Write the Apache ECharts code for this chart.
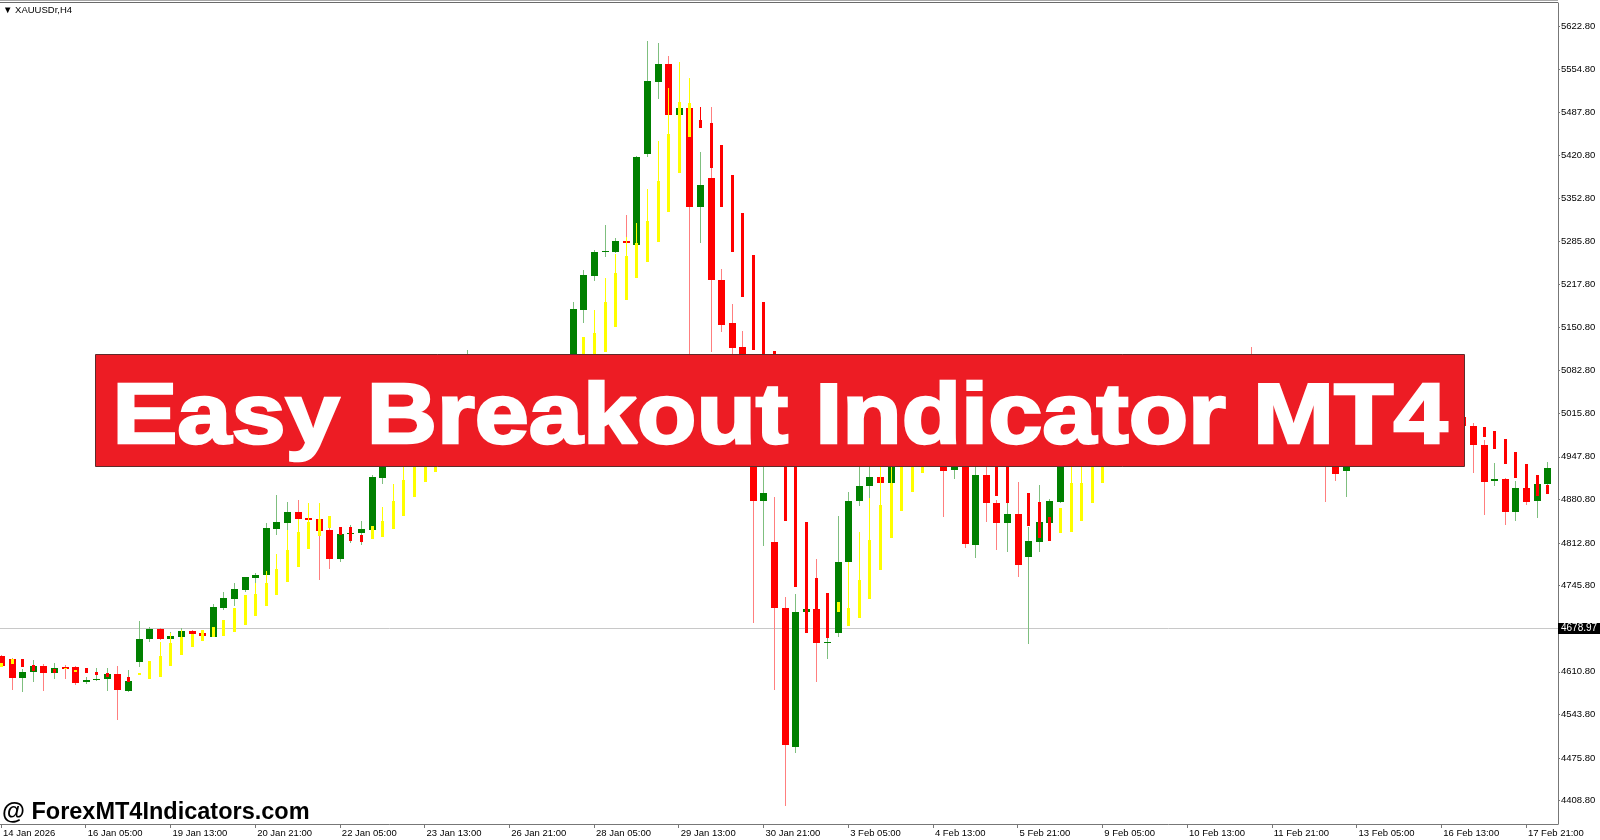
<!DOCTYPE html>
<html><head><meta charset="utf-8">
<script src="https://cdn.jsdelivr.net/npm/echarts@6/dist/echarts.min.js"></script>
<style>html,body{margin:0;padding:0;background:#fff;}#chart{width:1600px;height:840px;}</style>
</head><body><div id="chart"></div>
<script>
const symbolLabel = '\u25BC XAUUSDr,H4';
const titleText = 'Easy Breakout Indicator MT4';
const watermark = '@ ForexMT4Indicators.com';
const currentPrice = 4678.97;

const dateTickIdx = [0,8,16,24,32,40,48,56,64,72,80,88,96,104,112,120,128,136,144];
const dateLabels = ['14 Jan 2026','16 Jan 05:00','19 Jan 13:00','20 Jan 21:00','22 Jan 05:00','23 Jan 13:00','26 Jan 21:00','28 Jan 05:00','29 Jan 13:00','30 Jan 21:00','3 Feb 05:00','4 Feb 13:00','5 Feb 21:00','9 Feb 05:00','10 Feb 13:00','11 Feb 21:00','13 Feb 05:00','16 Feb 13:00','17 Feb 21:00'];
const priceTicks = [5622.8,5554.8,5487.8,5420.8,5352.8,5285.8,5217.8,5150.8,5082.8,5015.8,4947.8,4880.8,4812.8,4745.8,4610.8,4543.8,4475.8,4408.8];

const open = [
4635.6,4630.9,4601.6,4610.0,4619.9,4609.4,4617.9,4617.9,4594.9,4597.5,
4599.5,4607.4,4580.2,4626.6,4661.7,4677.9,4662.7,4665.8,4675.2,4671.1,
4665.8,4711.3,4725.4,4739.0,4758.3,4762.1,4834.6,4844.5,4861.7,4851.4,
4849.8,4832.6,4788.1,4827.1,4827.9,4833.0,4915.0,4950,4972,4990,
4960,4985,5015,5000,5045,5078,5055,5030,5052,5038,
5058,5072,5062,5080,5096,5177.8,5231.1,5269.2,5269.2,5286.4,
5279.7,5421.8,5535.6,5563.3,5483.4,5493.9,5338.7,5384.2,5224.8,5157.4,
5119.8,5040.0,4878.5,4813.8,4710.3,4493.4,4705.0,4709.2,4655.9,4672.1,
4782.4,4878.5,4902.0,4916.6,4906.2,4945,4970,4990,5000,4975,
4927.1,4945.0,4809.5,4919.2,4875.8,4843.5,4858.1,4791.2,4814.7,4844.5,
4877.4,4945,4960,4975,4990,5000,5015,5005,5030,5045,
5035,5055,5070,5060,5075,5065,5080,5070,5085,5060,
5040,5020,5030,5005,4985,4965,4945,4926.0,4950,4965,
4955,4975,4990,4980,5000,5015,5005,5020,5010,4996.0,
4966.2,4910.3,4912.5,4861.7,4898.4,4879.0,4905.1];
const high = [
4637.2,4632.0,4614.7,4629.3,4623.0,4624.1,4621.5,4619.9,4603.2,4616.3,
4616.3,4619.9,4613.6,4690.4,4681.5,4679.5,4673.6,4679.0,4676.3,4673.2,
4716.6,4736.3,4750.4,4759.8,4766.1,4844.5,4887.9,4877.0,4880.1,4855.0,
4851.0,4837.3,4830.4,4840.9,4847.6,4919.2,4958.0,4985,5000,4998,
4995,5025,5035,5060,5115,5090,5068,5062,5064,5072,
5086,5082,5096,5105,5190.8,5240.5,5271.8,5311.0,5290.2,5326.7,
5419.1,5599.4,5595.7,5575.8,5496.4,5500.6,5425.9,5496.4,5241.6,5187.2,
5144.9,5060.0,5000.0,4884.3,4728.5,4732.7,4716.0,4787.1,4663.3,4855.0,
4893.1,4940.0,4945.0,4940.0,4955.0,4985,5005,5015,5010,4990,
4960.0,4960.0,4940.0,4940.0,4880.0,4905.0,4908.7,4838.2,4903.6,4881.6,
4955.0,4975,4990,5005,5015,5030,5028,5040,5058,5060,
5065,5080,5085,5090,5088,5095,5092,5098,5119.3,5070,
5050,5045,5040,5015,4995,4975,4955,4960,4975,4980,
4985,5005,5000,5012,5030,5025,5035,5030,5020,5001.2,
4974.0,4938.5,4914.5,4909.8,4936.0,4919.2,4940.1];
const low = [
4618.4,4582.3,4579.6,4595.3,4581.2,4599.5,4599.1,4589.7,4591.2,4596.4,
4581.2,4535.3,4579.0,4618.8,4657.9,4660.7,4660.7,4663.3,4668.5,4665.3,
4664.9,4707.7,4714.4,4735.9,4749.5,4759.4,4825.2,4832.0,4848.7,4847.2,
4754.7,4771.4,4782.9,4813.1,4810.0,4829.9,4904.7,4945,4960,4928.2,
4928.2,4975,4990,4995,5035,5045,5012,5022,5025,5030,
5048,5052,5056,5072,5086,5157.0,5223.7,5261.3,5267.1,5279.7,
5275.0,5418.0,5508.0,5478.7,5478.7,5060.0,5282.3,5112.5,5143.8,5100.0,
5020.0,4687.8,4808.0,4582.3,4401.0,4483.1,4701.4,4595.3,4630.4,4664.9,
4778.2,4871.1,4882.7,4903.6,4902.0,4938,4960,4975,4950,4853.9,
4913.0,4804.4,4788.7,4846.1,4801.7,4799.0,4758.9,4654.4,4799.0,4840.9,
4875.3,4938,4950,4965,4980,4990,4995,5000,5020,5025,
5030,5045,5050,5052,5055,5058,5060,5062,5050,5030,
5010,5005,4995,4975,4950,4877.4,4910.3,4885.2,4940,4945,
4948,4965,4968,4972,4990,4995,4998,5000,4990,4922.8,
4856.5,4902.4,4840.9,4847.2,4872.2,4852.3,4902.0];
const close = [
4619.9,4601.6,4610.5,4619.9,4609.4,4616.3,4614.7,4593.8,4598.0,4600.0,
4607.4,4581.8,4595.9,4662.2,4677.9,4662.2,4666.9,4675.2,4670.0,4666.9,
4711.9,4726.5,4740.1,4758.9,4763.0,4835.7,4845.1,4861.7,4850.3,4849.2,
4831.5,4788.1,4826.8,4827.9,4834.6,4915.6,4950.0,4972,4990,4960,
4985,5015,5000,5045,5078,5055,5030,5052,5038,5058,
5072,5062,5080,5096,5178.9,5232.6,5269.2,5270.7,5286.4,5282.3,
5418.0,5537.1,5563.3,5483.4,5493.9,5339.7,5373.7,5224.8,5154.3,5118.2,
5040.0,4878.5,4890.5,4710.3,4496.1,4704.1,4709.2,4655.5,4658.0,4782.4,
4879.0,4902.0,4916.6,4906.2,4945.0,4970,4990,5000,4975,4926.0,
4945.0,4811.1,4919.2,4875.8,4843.5,4858.1,4778.2,4815.8,4845.1,4878.5,
4945.0,4960,4975,4990,5000,5015,5005,5030,5045,5035,
5055,5070,5060,5075,5065,5080,5070,5085,5060,5040,
5020,5030,5005,4985,4965,4945,4920.8,4950,4965,4955,
4975,4990,4980,5000,5015,5005,5020,5010,4996,4966.2,
4908.7,4912.5,4861.7,4898.4,4877.4,4904.7,4930.2];

// Breakout indicator histogram: 1 = yellow (up), 0 = red (down)
const indUp = [
1,1,0,0,null,0,1,1,0,0,
0,null,0,1,1,1,1,1,1,1,
1,1,1,1,1,1,1,1,1,1,
1,1,0,0,0,1,1,1,1,1,
1,1,1,1,1,1,1,1,1,1,
1,1,1,1,1,1,1,1,1,1,
1,1,1,1,1,1,0,0,0,0,
0,0,0,0,0,0,0,0,0,1,
1,1,1,1,1,1,1,1,0,0,
0,0,0,0,0,0,0,0,0,0,
1,1,1,1,1,1,1,1,1,1,
1,1,1,1,1,1,1,1,0,0,
0,0,0,0,0,0,0,0,0,0,
0,0,0,0,0,0,0,0,0,null,
0,0,0,0,0,0,0];
const indHigh = [
4624.6,4630.9,4630.4,4621.0,null,4615.7,4617.3,4613.6,4616.3,4611.0,
4608.5,null,4603.2,4608.5,4627.7,4657.9,4671.6,4676.3,4670.0,4676.3,
4681.5,4692.0,4711.3,4731.2,4749.5,4768.8,4795.0,4833.0,4850.3,4874.9,
4874.9,4855.0,4838.2,4837.3,4825.2,4839.3,4869.5,4904.7,4950.0,4960.0,
4965.0,4970.0,5000,5010,5020,5040,5045,5050,5055,5060,
5065,5070,5075,5080,5090,5135.5,5177.8,5227.9,5265.6,5292.7,
5314.6,5367.4,5443.1,5525.2,5566.9,5540.9,5496.4,5470.4,5436.4,5389.4,
5329.8,5264.0,5190.3,5113.5,5010,4990,4846.1,4757.3,4733.8,4720.7,
4782.4,4830.4,4882.7,4935.0,4945.0,4950,4960,4975,5005,5000,
5000,4995,4990,4985,4950,4940,4950,4891.5,4877.4,4853.9,
4867.0,4940,4945,4940,4945,4985,4990,4995,5005,5010,
5015,5025,5030,5035,5040,5045,5048,5052,5105,5100,
5095,5090,5085,5075,5065,5050,5040,5030,5025,5025,
5030,5040,5040,5045,5055,5050,5055,5045,5035,null,
4994.9,4988.2,4975.2,4955.7,4936.5,4919.2,4903.6];
const indTop = [
4624.6,4630.9,4630.4,4621.0,null,4615.7,4617.3,4613.6,4616.3,4611.0,
4608.5,null,4603.2,4608.5,4627.7,4635.6,4656.4,4665.8,4670.0,4676.3,
4681.5,4692.0,4711.3,4731.2,4732.3,4749.5,4771.4,4801.7,4830.4,4846.1,
4850.3,4855.0,4838.2,4837.3,4825.2,4839.3,4847.2,4878.5,4911.4,4935.0,
4950.0,4955.0,4990,4995,5005,5020,5030,5035,5040,5045,
5050,5055,5060,5065,5075,5135.5,5141.7,5190.8,5235.3,5262.4,
5282.3,5317.3,5380.0,5453.6,5504.2,5502.2,5475.5,5470.4,5436.4,5389.4,
5329.8,5264.0,5190.3,5113.5,5010,4990,4846.1,4757.3,4733.8,4720.7,
4710.3,4754.7,4817.4,4872.2,4906.2,4950,4960,4975,5005,5000,
5000,4995,4990,4985,4950,4940,4950,4891.5,4877.4,4853.9,
4867.0,4906.2,4906.2,4940,4945,4985,4990,4995,5005,5010,
5015,5025,5030,5035,5040,5045,5048,5052,5105,5100,
5095,5090,5085,5075,5065,5050,5040,5030,5025,5025,
5030,5040,5040,5045,5055,5050,5055,5045,5035,null,
4994.9,4988.2,4975.2,4955.7,4936.5,4919.2,4903.6];
const indLow = [
4618.4,4622.6,4618.8,4612.5,null,4608.5,4614.7,4611.0,4608.5,4605.8,
4602.2,null,4595.3,4605.8,4599.1,4603.2,4619.9,4637.2,4650.2,4659.1,
4664.9,4667.4,4672.7,4684.2,4698.7,4714.4,4731.2,4751.1,4775.5,4802.8,
4824.1,4835.7,4825.2,4815.8,4814.7,4818.9,4821.6,4834.1,4855.0,4884.3,
4908.7,4924.4,4940,4945,4955,4965,4975,4985,4990,4995,
5000,5005,5010,5015,5025,5040,5060,5112.5,5151.6,5193.5,
5227.5,5253.5,5284.8,5331.8,5392.0,5448.4,5462.5,5399.8,5339.7,5268.7,
5198.2,5115.1,5050,4990,4847.2,4743.2,4672.1,4710,4663.3,4705.0,
4682.6,4694.6,4724.4,4770.4,4821.0,4862.8,4893.1,4922.8,4985,4970,
4965,4960,4950,4945,4886.8,4874.9,4935,4839.3,4820.0,4816.3,
4827.9,4829.4,4847.6,4875.8,4907.2,4945,4950,4955,4965,4975,
4980,4990,4995,5000,5005,5010,5015,5020,5090,5075,
5060,5050,5045,5030,5015,5000,4985,4975,4985,4990,
4995,5010,5005,5015,5035,5030,5040,5035,5020,null,
4979.2,4960.0,4936.5,4914.0,4898.9,4886.3,4889.4];

const candleData = open.map((o, i) => [i, o, high[i], low[i], close[i]]);
const indData = [];
indUp.forEach((u, i) => { if (u !== null) indData.push([i, indHigh[i], indTop[i], indLow[i], u]); });

function renderCandle(params, api) {
  const i = api.value(0), o = api.value(1), h = api.value(2), l = api.value(3), c = api.value(4);
  const pO = api.coord([i, o]), pC = api.coord([i, c]), pH = api.coord([i, h]), pL = api.coord([i, l]);
  const cx = Math.round(pO[0]);
  const up = c >= o;
  const yTop = Math.round(Math.min(pO[1], pC[1])), yBot = Math.round(Math.max(pO[1], pC[1]));
  const yH = Math.round(pH[1]), yL = Math.round(pL[1]);
  return { type: 'group', children: [
    { type: 'rect', shape: { x: cx, y: yH, width: 1, height: Math.max(1, yL - yH) }, style: { fill: up ? '#7fbf7f' : '#ff7f7f' } },
    { type: 'rect', shape: { x: cx - 3, y: yTop, width: 7, height: Math.max(1, yBot - yTop) }, style: { fill: up ? '#008000' : '#ff0000' } }
  ]};
}
function renderInd(params, api) {
  const i = api.value(0), hi = api.value(1), tp = api.value(2), lo = api.value(3), u = api.value(4);
  const pHi = api.coord([i, hi]), pT = api.coord([i, tp]), pL = api.coord([i, lo]);
  const cx = Math.round(pT[0]);
  const col = u ? '#ffff00' : '#ff0000';
  const yHi = Math.round(pHi[1]), yT = Math.round(pT[1]), yL = Math.round(pL[1]);
  const ch = [{ type: 'rect', shape: { x: cx - 1, y: yT, width: 3, height: Math.max(1, yL - yT) }, style: { fill: col } }];
  if (yT - yHi > 0) ch.push({ type: 'rect', shape: { x: cx, y: yHi, width: 1, height: yT - yHi }, style: { fill: col } });
  return { type: 'group', children: ch };
}
function renderPrice(params, api) {
  const p = api.coord([0, api.value(0)]);
  const cs = params.coordSys;
  const y = Math.round(p[1]) + 0.5;
  return { type: 'group', children: [
    { type: 'line', shape: { x1: cs.x, y1: y, x2: cs.x + cs.width, y2: y }, style: { stroke: '#c8c8c8', lineWidth: 1 } },
    { type: 'rect', shape: { x: cs.x + cs.width, y: y - 5.5, width: 42, height: 11 }, style: { fill: '#000' }, z2: 10 },
    { type: 'text', x: cs.x + cs.width + 3, y: y, style: { text: api.value(0).toFixed(2), fill: '#fff', font: '10px "Liberation Sans"', align: 'left', verticalAlign: 'middle', textAlign: 'left', textVerticalAlign: 'middle' }, z2: 11 }
  ]};
}

const mc = document.createElement('canvas').getContext('2d');
mc.font = 'bold 86px "Liberation Sans"';
const titleScale = 1335 / mc.measureText(titleText).width;

const chart = echarts.init(document.getElementById('chart'), null, { renderer: 'canvas' });
chart.setOption({
  animation: false,
  backgroundColor: '#ffffff',
  grid: { left: 0, right: 42, top: 3, bottom: 16 },
  xAxis: {
    type: 'value', min: -0.0944, max: 147.03,
    splitLine: { show: false },
    axisLine: { onZero: false, lineStyle: { color: '#777', width: 1 } },
    axisTick: { show: true, customValues: dateTickIdx, length: 4, lineStyle: { color: '#777' } },
    axisLabel: { customValues: dateTickIdx, align: 'left', margin: 4, padding: [0, 0, 0, 2], color: '#000',
      fontFamily: 'Liberation Sans', fontSize: 9.5,
      formatter: v => dateLabels[dateTickIdx.indexOf(Math.round(v))] || '' }
  },
  yAxis: {
    type: 'value', position: 'right', min: 4372.3, max: 5658.9, scale: true,
    splitLine: { show: false },
    axisLine: { show: true, onZero: false, lineStyle: { color: '#777', width: 1 } },
    axisTick: { show: true, customValues: priceTicks, length: 2, lineStyle: { color: '#777' } },
    axisLabel: { customValues: priceTicks, margin: 3, color: '#000', fontFamily: 'Liberation Sans', fontSize: 9.5,
      formatter: v => v.toFixed(2) }
  },
  series: [
    { type: 'custom', name: 'price', data: [[currentPrice]], encode: { y: 0 }, renderItem: renderPrice, clip: false, z: 1, silent: true },
    { type: 'custom', name: 'candles', data: candleData, encode: { x: 0, y: [1, 2, 3, 4] }, renderItem: renderCandle, clip: true, z: 2, silent: true },
    { type: 'custom', name: 'breakout', data: indData, encode: { x: 0, y: [1, 2, 3] }, renderItem: renderInd, clip: true, z: 3, silent: true }
  ],
  graphic: [
    { type: 'rect', shape: { x: 0, y: 0, width: 1558, height: 1 }, style: { fill: '#a8a8a8' }, z: 50, silent: true },
    { type: 'rect', shape: { x: 0, y: 2, width: 1558, height: 1 }, style: { fill: '#6a6a6a' }, z: 50, silent: true },
    { type: 'text', x: 3, y: 10, style: { text: symbolLabel, fill: '#000', font: '9.5px "Liberation Sans", "DejaVu Sans"', align: 'left', verticalAlign: 'middle', textAlign: 'left', textVerticalAlign: 'middle' }, z: 50, silent: true },
    { type: 'rect', shape: { x: 95.5, y: 354.5, width: 1369, height: 112 }, style: { fill: '#ed1c24', stroke: '#5e2a2a', lineWidth: 1 }, z: 100, silent: true },
    { type: 'text', x: 780, y: 419, scaleX: titleScale, style: { text: titleText, fill: '#ffffff', stroke: '#ffffff', lineWidth: 2.5, font: 'bold 86px "Liberation Sans"', align: 'center', verticalAlign: 'middle', textAlign: 'center', textVerticalAlign: 'middle' }, z: 101, silent: true },
    { type: 'text', x: 2, y: 813, style: { text: watermark, fill: '#000', font: 'bold 23.5px "Liberation Sans"', align: 'left', verticalAlign: 'middle', textAlign: 'left', textVerticalAlign: 'middle' }, z: 101, silent: true }
  ]
});
</script>
</body></html>
